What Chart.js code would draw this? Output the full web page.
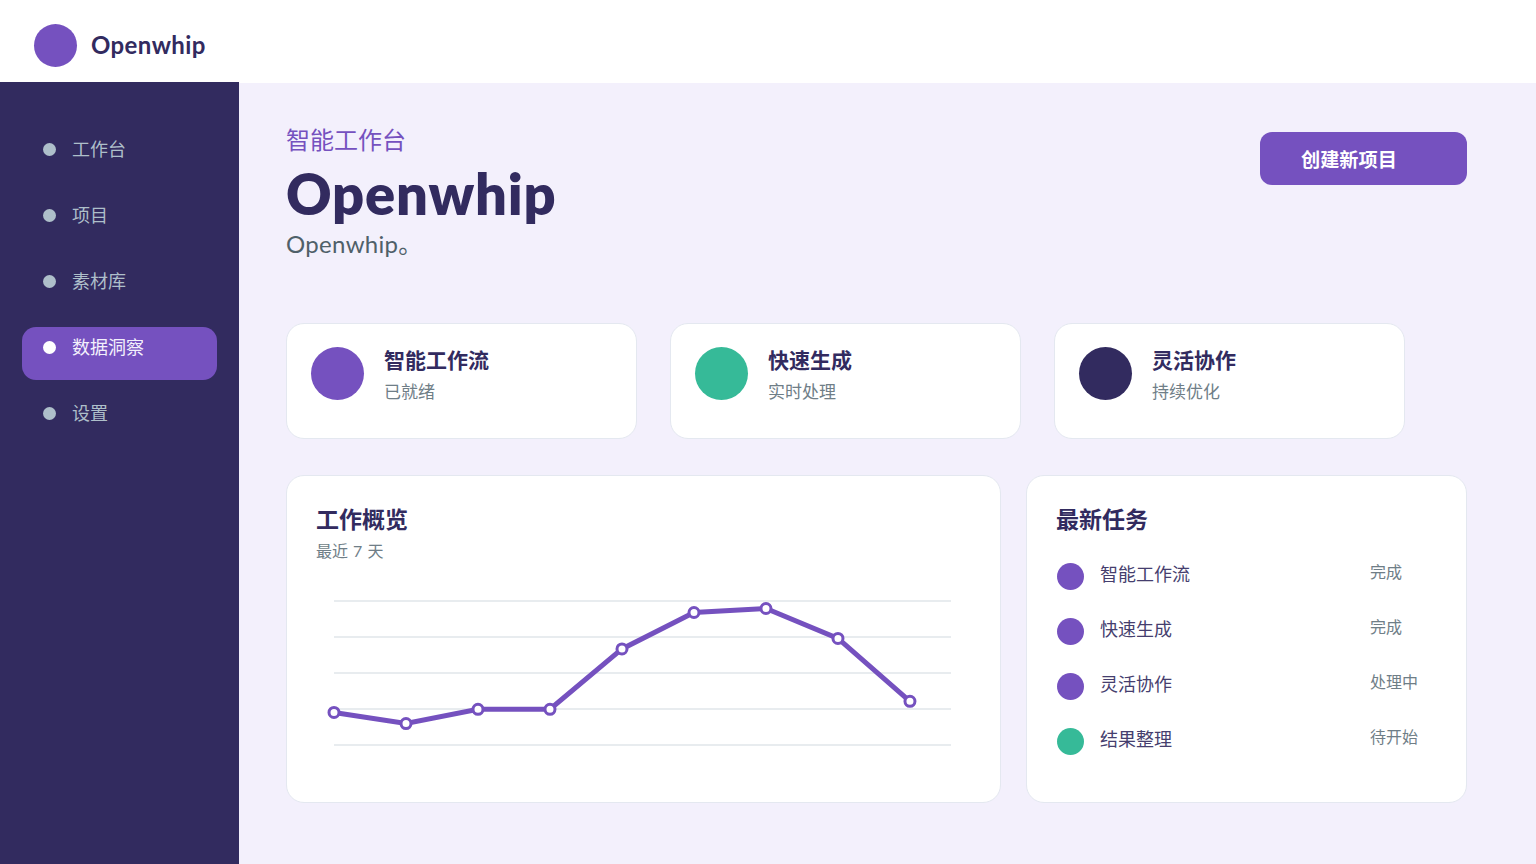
<!DOCTYPE html>
<html lang="zh">
<head>
<meta charset="utf-8">
<title>Openwhip</title>
<script src="https://cdn.jsdelivr.net/npm/chart.js@4"></script>
<style>
  * { box-sizing: border-box; margin: 0; padding: 0; }
  html, body { width: 1536px; height: 864px; overflow: hidden; background: #f3f0fc; font-family: Lato, "Noto Sans CJK SC", sans-serif; color: #322b5f; }
  .abs, .abs-group > * { position: absolute; white-space: nowrap; }
  .top { left: 0; top: 0; width: 1536px; height: 83px; background: #fff; }
  .side { left: 0; top: 82px; width: 239px; height: 782px; background: #322b5f; }
  .dot { border-radius: 50%; }
  .card { background: #fff; border: 1px solid #e4e8f0; border-radius: 18px; }
  .active { left: 22px; top: 327px; width: 195px; height: 53px; background: #7551bf; border-radius: 14px; }
  .nav { font-size: 18px; line-height: 26px; color: #aebfca; left: 72px; }
  .btn { left: 1260px; top: 132px; width: 207px; height: 53px; background: #7551bf; border-radius: 12px; color: #fff; font-weight: 700; font-size: 19.2px; line-height: 56px; padding-left: 41px; }
  #chartBox { position: absolute; left: 316px; top: 585px; width: 652px; height: 176px; }
</style>
</head>
<body>
<div class="abs top"></div>
<div class="abs dot" style="left:34px;top:24px;width:43px;height:43px;background:#7551bf"></div>
<div class="abs" style="left:91px;top:28px;font-size:24px;line-height:34px;font-weight:700;letter-spacing:.4px">Openwhip</div>

<div class="abs side"></div>
<div class="abs active"></div>
<div id="navList" class="abs-group"></div>

<div class="abs" style="left:286px;top:122px;font-size:24px;line-height:35px;color:#7551bf">智能工作台</div>
<div class="abs" style="left:286px;top:155px;font-size:56px;line-height:78px;font-weight:800;letter-spacing:.8px">Openwhip</div>
<div class="abs" style="left:286px;top:226px;font-size:24px;line-height:35px;color:#4f6069;letter-spacing:.3px">Openwhip。</div>
<div class="abs btn">创建新项目</div>

<div id="statCards" class="abs-group"></div>

<div class="abs card" style="left:286px;top:475px;width:715px;height:328px"></div>
<div class="abs" style="left:316px;top:503px;font-size:23px;line-height:33px;font-weight:700">工作概览</div>
<div class="abs" style="left:316px;top:539px;font-size:16px;line-height:24px;color:#6f7e87;word-spacing:1px">最近 7 天</div>
<div id="chartBox"><canvas id="overview"></canvas></div>

<div class="abs card" style="left:1026px;top:475px;width:441px;height:328px"></div>
<div class="abs" style="left:1056px;top:503px;font-size:23px;line-height:33px;font-weight:700">最新任务</div>
<div id="taskList" class="abs-group"></div>

<script>
const navItems = ["工作台", "项目", "素材库", "数据洞察", "设置"];
const activeNav = 3;
const statTitles = ["智能工作流", "快速生成", "灵活协作"];
const statSubs = ["已就绪", "实时处理", "持续优化"];
const statColors = ["#7551bf", "#36ba98", "#322b5f"];
const taskNames = ["智能工作流", "快速生成", "灵活协作", "结果整理"];
const taskStates = ["完成", "完成", "处理中", "待开始"];
const taskColors = ["#7551bf", "#7551bf", "#7551bf", "#36ba98"];

// chart values
const days = [0, 1, 2, 3, 4, 5, 6, 7, 8];
const workload = [22.6, 14.9, 24.8, 24.8, 66.7, 92, 94.8, 74, 30.3];

const add = (parent, html) => parent.insertAdjacentHTML("beforeend", html);

const navList = document.getElementById("navList");
navItems.forEach((name, i) => {
  const y = 149 + i * 66;
  const on = i === activeNav;
  add(navList, `<div class="dot" style="left:43px;top:${y - 6}px;width:13px;height:13px;background:${on ? "#fff" : "#aebfca"}"></div>`);
  add(navList, `<div class="nav" style="top:${y - 13}px;color:${on ? "#f3f0fc" : "#aebfca"}">${name}</div>`);
});

const statCards = document.getElementById("statCards");
statTitles.forEach((title, i) => {
  const x = 286 + i * 384;
  add(statCards, `<div class="card" style="left:${x}px;top:323px;width:351px;height:116px"></div>`);
  add(statCards, `<div class="dot" style="left:${x + 25}px;top:347px;width:53px;height:53px;background:${statColors[i]}"></div>`);
  add(statCards, `<div style="left:${x + 98}px;top:344px;font-size:21px;line-height:31px;font-weight:700">${title}</div>`);
  add(statCards, `<div style="left:${x + 98}px;top:379px;font-size:17px;line-height:25px;color:#6f7e87">${statSubs[i]}</div>`);
});

const taskList = document.getElementById("taskList");
taskNames.forEach((name, i) => {
  const y = 576 + i * 55;
  add(taskList, `<div class="dot" style="left:1057px;top:${y - 13}px;width:27px;height:27px;background:${taskColors[i]}"></div>`);
  add(taskList, `<div style="left:1100px;top:${y - 15}px;font-size:18px;line-height:26px;color:#453e6e">${name}</div>`);
  add(taskList, `<div style="left:1370px;top:${y - 16}px;font-size:16px;line-height:24px;color:#6f7e87">${taskStates[i]}</div>`);
});

new Chart(document.getElementById("overview"), {
  type: "line",
  data: {
    labels: days,
    datasets: [{
      data: workload,
      borderColor: "#7551bf",
      borderWidth: 5,
      backgroundColor: "#fff",
      pointBackgroundColor: "#fff",
      pointBorderColor: "#7551bf",
      pointBorderWidth: 3,
      pointRadius: 5,
      tension: 0,
      clip: false,
    }],
  },
  options: {
    animation: false,
    responsive: true,
    maintainAspectRatio: false,
    layout: { padding: { left: 18, right: 17, top: 16, bottom: 8 } },
    plugins: { legend: { display: false }, tooltip: { enabled: false } },
    scales: {
      x: {
        type: "linear",
        min: 0,
        max: 8.57,
        ticks: { display: false },
        grid: { display: false },
        border: { display: false },
      },
      y: {
        min: 0,
        max: 100,
        ticks: { display: false, stepSize: 25 },
        grid: { color: "#e8ecef", lineWidth: 2, drawTicks: false },
        border: { display: false },
      },
    },
  },
});
</script>
</body>
</html>
